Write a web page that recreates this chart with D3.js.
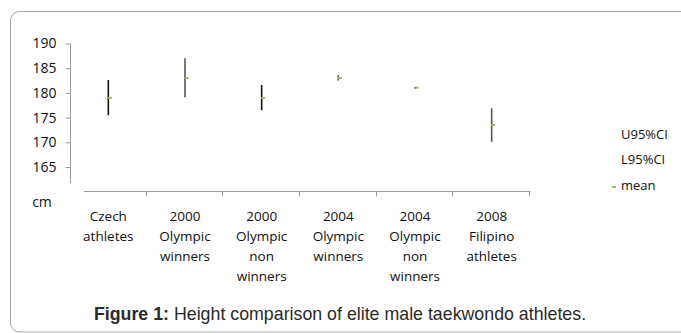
<!DOCTYPE html>
<html>
<head>
<meta charset="utf-8">
<script src="https://cdn.jsdelivr.net/npm/d3@7"></script>
<style>
  html, body { margin: 0; padding: 0; background: #fff; }
  svg { display: block; }
</style>
</head>
<body>
<svg id="chart" width="681" height="333"></svg>
<script>
// Groups of athletes (label lines) and their height statistics in cm
const categories = [
  ["Czech", "athletes"],
  ["2000", "Olympic", "winners"],
  ["2000", "Olympic", "non", "winners"],
  ["2004", "Olympic", "winners"],
  ["2004", "Olympic", "non", "winners"],
  ["2008", "Filipino", "athletes"]
];
const upper95 = [182.6, 187.0, 181.6, 183.6, 181.2, 176.9];
const lower95 = [175.5, 179.1, 176.5, 182.5, 180.9, 170.1];
const means   = [179.0, 183.0, 179.0, 183.0, 181.05, 173.5];
const yTicks  = [165, 170, 175, 180, 185, 190];
const legendLabels = ["U95%CI", "L95%CI", "mean"];
const lineShades = ["#111", "#555", "#111", "#555", "#111", "#555"];

const svg = d3.select("#chart");
const font = "'Open Sans', sans-serif";

// Outer rounded frame
svg.append("rect")
  .attr("x", 10.5).attr("y", 11.5)
  .attr("width", 700).attr("height", 320.5)
  .attr("rx", 9).attr("ry", 9)
  .attr("fill", "#fff")
  .attr("stroke", "#a6a6a6").attr("stroke-width", 1);

const keys = categories.map(c => c.join(" "));
const x = d3.scaleBand().domain(keys).range([70, 530]);
const y = d3.scaleLinear().domain([160, 190]).range([191.7, 43.5]);

// Y axis
const yAxis = svg.append("g")
  .attr("transform", "translate(70.5,0)")
  .call(d3.axisLeft(y).tickValues(yTicks).tickSize(5).tickPadding(9).tickFormat(d3.format("d")));
yAxis.select(".domain")
  .attr("d", `M0,${y(190)}V183`);
yAxis.selectAll(".tick line").attr("stroke", "#9a9a9a");
yAxis.select(".domain").attr("stroke", "#9a9a9a");
yAxis.selectAll(".tick text")
  .attr("font-family", font).attr("font-size", 14).attr("fill", "#111");

// Unit label under the value axis
svg.append("text")
  .attr("x", 42).attr("y", 203)
  .attr("text-anchor", "middle").attr("dominant-baseline", "middle")
  .attr("font-family", font).attr("font-size", 14).attr("fill", "#111")
  .text("cm");

// X axis
const xAxisY = Math.round(y(160)) - 0.5;
const xg = svg.append("g").attr("transform", `translate(0,${xAxisY})`);
xg.append("line")
  .attr("x1", 84).attr("x2", x.range()[1] + 0.5)
  .attr("stroke", "#9a9a9a").attr("stroke-width", 1);
xg.selectAll("line.tick")
  .data(keys)
  .join("line")
  .attr("class", "tick")
  .attr("x1", d => Math.round(x(d) + x.bandwidth()) - 0.5)
  .attr("x2", d => Math.round(x(d) + x.bandwidth()) - 0.5)
  .attr("y1", 0).attr("y2", 5)
  .attr("stroke", "#9a9a9a");

// Category labels (multi-line)
const labels = svg.append("g")
  .attr("font-family", font).attr("font-size", 13.5).attr("fill", "#111")
  .attr("text-anchor", "middle");
categories.forEach((lines, i) => {
  const cx = x(keys[i]) + x.bandwidth() / 2;
  const t = labels.append("text").attr("x", cx).attr("y", 221);
  lines.forEach((ln, j) => {
    t.append("tspan").attr("x", cx).attr("dy", j === 0 ? 0 : 20).text(ln);
  });
});

// Confidence interval high-low lines
const marks = svg.append("g");
marks.selectAll("line.ci")
  .data(keys)
  .join("line")
  .attr("class", "ci")
  .attr("x1", d => x(d) + x.bandwidth() / 2)
  .attr("x2", d => x(d) + x.bandwidth() / 2)
  .attr("y1", (d, i) => y(upper95[i]))
  .attr("y2", (d, i) => y(lower95[i]))
  .attr("stroke", (d, i) => lineShades[i])
  .attr("stroke-width", 1.6);

// Mean markers
marks.selectAll("line.mean")
  .data(keys)
  .join("line")
  .attr("class", "mean")
  .attr("x1", d => x(d) + x.bandwidth() / 2 - 0.5)
  .attr("x2", d => x(d) + x.bandwidth() / 2 + 3.5)
  .attr("y1", (d, i) => y(means[i]))
  .attr("y2", (d, i) => y(means[i]))
  .attr("stroke", "#9bbb59")
  .attr("stroke-width", 2);

// Legend
const legend = svg.append("g")
  .attr("font-family", font).attr("font-size", 13).attr("fill", "#111");
const legendY = [136, 161, 187];
legendLabels.forEach((lbl, i) => {
  legend.append("text")
    .attr("x", 621).attr("y", legendY[i])
    .attr("dominant-baseline", "middle")
    .text(lbl);
});
legend.append("line")
  .attr("x1", 612).attr("x2", 616)
  .attr("y1", legendY[2]).attr("y2", legendY[2])
  .attr("stroke", "#9bbb59").attr("stroke-width", 2);

// Caption
const caption = svg.append("text")
  .attr("x", 340).attr("y", 320)
  .attr("text-anchor", "middle")
  .attr("font-family", "'Liberation Sans', Arial, sans-serif")
  .attr("font-size", 17.8).attr("fill", "#2a2a2a");
caption.append("tspan").attr("font-weight", "bold").text("Figure 1:");
caption.append("tspan").text(" Height comparison of elite male taekwondo athletes.");
</script>
</body>
</html>
